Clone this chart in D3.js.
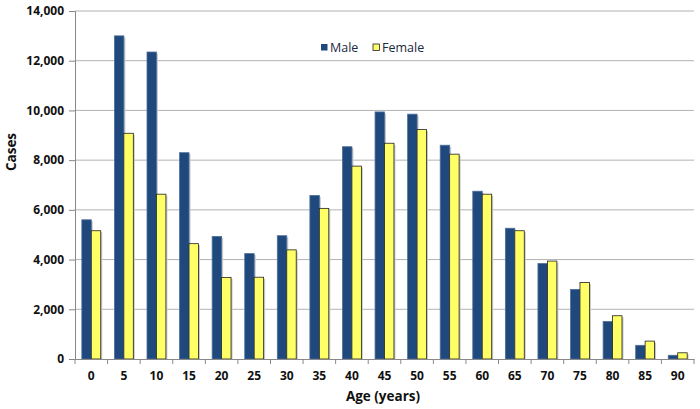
<!DOCTYPE html>
<html>
<head>
<meta charset="utf-8">
<title>Cases by age</title>
<script src="https://d3js.org/d3.v7.min.js"></script>
<style>
    body { margin: 0; background: white; }
    text { font-family: "Open Sans", "Liberation Sans", sans-serif; fill: #111; }
    .tick text { font-size: 12px; font-weight: bold; }
    .title { font-size: 13.5px; font-weight: bold; }
    .legend text { font-size: 12.5px; fill: #1a2a40; }
</style>
</head>
<body>
<script>
    var ages = ["0","5","10","15","20","25","30","35","40","45","50","55","60","65","70","75","80","85","90"];
    var male   = [5600,13000,12350,8300,4930,4240,4960,6580,8540,9940,9850,8600,6750,5260,3840,2800,1510,550,150];
    var female = [5160,9080,6630,4640,3280,3290,4390,6060,7760,8680,9230,8240,6630,5160,3940,3080,1740,720,250];
    var seriesNames = ["Male","Female"];
    var yTicks = [0,2000,4000,6000,8000,10000,12000,14000];

    var width = 700, height = 409;
    var margin = {left: 75, right: 6, top: 11, bottom: 50};
    var colors = {Male: "#1f487c", Female: "#ffff66"};

    var svg = d3.select("body").append("svg")
        .attr("width", width).attr("height", height);

    var x = d3.scaleBand().domain(ages)
        .range([margin.left, width - margin.right]);
    var x1 = d3.scaleBand().domain(seriesNames)
        .range([0, x.bandwidth() * 0.58]);
    var offset = (x.bandwidth() - x1.range()[1]) / 2;
    var y = d3.scaleLinear().domain([0, 14000])
        .range([height - margin.bottom, margin.top]);

    // gridlines
    svg.append("g").selectAll("line").data(yTicks.slice(1)).enter().append("line")
        .attr("x1", margin.left).attr("x2", width - margin.right)
        .attr("y1", function(d){ return y(d); }).attr("y2", function(d){ return y(d); })
        .attr("stroke", "#b3b3b3").attr("stroke-width", 1);

    // y axis
    var yAxis = svg.append("g").attr("transform", "translate(" + margin.left + ",0)")
        .call(d3.axisLeft(y).tickValues(yTicks).tickSize(6).tickPadding(5).tickFormat(d3.format(",")));
    yAxis.select(".domain").attr("stroke", "#888");
    yAxis.selectAll(".tick line").attr("stroke", "#888");

    // bars
    var data = ages.map(function(a, i){ return {age: a, Male: male[i], Female: female[i]}; });
    var groups = svg.append("g").selectAll("g").data(data).enter().append("g")
        .attr("transform", function(d){ return "translate(" + (x(d.age) + offset) + ",0)"; });

    groups.selectAll("rect.shadow").data(function(d){
            return seriesNames.map(function(s){ return {s: s, v: d[s]}; });
        }).enter().append("rect").attr("class", "shadow")
        .attr("x", function(d){ return x1(d.s) + 1.5; })
        .attr("y", function(d){ return y(d.v) + 1.5; })
        .attr("width", x1.bandwidth())
        .attr("height", function(d){ return Math.max(0, y(0) - y(d.v) - 1.5); })
        .attr("fill", "#c8c8c8");

    groups.selectAll("rect.bar").data(function(d){
            return seriesNames.map(function(s){ return {s: s, v: d[s]}; });
        }).enter().append("rect").attr("class", "bar")
        .attr("x", function(d){ return x1(d.s); })
        .attr("y", function(d){ return y(d.v); })
        .attr("width", x1.bandwidth())
        .attr("height", function(d){ return y(0) - y(d.v); })
        .attr("fill", function(d){ return colors[d.s]; })
        .attr("stroke", function(d){ return d.s == "Female" ? "#222" : "#4d6f9a"; })
        .attr("stroke-width", 0.8);

    // x axis
    var xAxis = svg.append("g").attr("transform", "translate(0," + y(0) + ")")
        .call(d3.axisBottom(x).tickSize(0).tickPadding(12));
    xAxis.select(".domain").attr("stroke", "#888");
    svg.append("g").selectAll("line").data(ages.concat(["end"])).enter().append("line")
        .attr("x1", function(d, i){ return margin.left + i * x.step(); })
        .attr("x2", function(d, i){ return margin.left + i * x.step(); })
        .attr("y1", y(0)).attr("y2", y(0) + 5)
        .attr("stroke", "#888");

    // axis titles
    svg.append("text").attr("class", "title")
        .attr("x", 383).attr("y", 401)
        .attr("text-anchor", "middle").text("Age (years)");
    svg.append("text").attr("class", "title")
        .attr("transform", "translate(16,152) rotate(-90)")
        .attr("text-anchor", "middle").text("Cases");

    // legend
    var legend = svg.append("g").attr("class", "legend").attr("transform", "translate(321,44)")
        .selectAll("g").data(seriesNames).enter().append("g")
        .attr("transform", function(d, i){ return "translate(" + i * 52 + ",0)"; });
    legend.append("rect").attr("width", 6.5).attr("height", 6.5)
        .attr("fill", function(d){ return colors[d]; })
        .attr("stroke", function(d){ return d == "Female" ? "#222" : "none"; })
        .attr("stroke-width", 0.8);
    legend.append("text").attr("x", 9).attr("y", 8).text(function(d){ return d; });
</script>
</body>
</html>
